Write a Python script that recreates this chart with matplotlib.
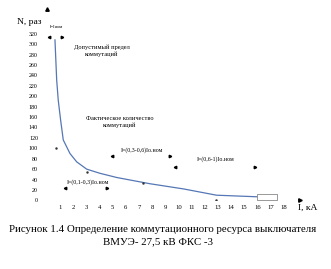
import matplotlib
matplotlib.use('Agg')
import matplotlib.pyplot as plt

# curve: current I (kA) -> number of switchings N
current_ka = [0.62, 0.75, 0.87, 1.05, 1.25, 1.76, 2.27, 3.03, 4.04, 5.31, 6.57, 7.84, 10.4, 12.9, 14.4, 15.95]
switchings = [308, 231, 192, 154, 116, 90, 74, 60, 52, 44, 38, 32, 22, 10, 8.5, 7]

# small range arrows (left / right pointing) and dots
left_arrows_x = [0.16, 4.93, 9.74, 1.38]
left_arrows_y = [314, 85, 65, 24]
right_arrows_x = [1.15, 9.4, 15.8, 4.6]
right_arrows_y = [314, 85, 65, 24]
dots_x = [0.7, 3.05, 7.3, 12.9]
dots_y = [101, 55, 33, 1]

# end box on the curve
box_x = [16.0, 17.5]
box_y = [1, 12]

x_ticks = list(range(1, 19))
y_ticks = list(range(0, 321, 20))

serif = 'Liberation Serif'

fig = plt.figure(figsize=(3.31, 2.69), dpi=100)
ax = fig.add_axes([0.1335, 0.255, 0.7828, 0.7167])
ax.set_xlim(-0.2, 19.5)
ax.set_ylim(0, 370)
for s in ax.spines.values():
    s.set_visible(False)

ax.plot(current_ka, switchings, color='#5577b5', lw=0.9)
ax.fill_between(box_x, box_y[0], box_y[1], facecolor='white', edgecolor='#888888', lw=0.6)

ax.plot(left_arrows_x, left_arrows_y, ls='none', marker='<', ms=1.8, color='black')
ax.plot(right_arrows_x, right_arrows_y, ls='none', marker='>', ms=1.8, color='black')
ax.plot(dots_x, dots_y, ls='none', marker='.', ms=1.5, color='#333333')

# axis arrows
ax.plot([0.01], [367], ls='none', marker='^', ms=2.5, color='black', clip_on=False)
ax.plot([19.25], [1], ls='none', marker='>', ms=2.5, color='black', clip_on=False)

ax.set_xticks(x_ticks)
ax.set_yticks(y_ticks)
ax.tick_params(length=0, labelsize=4.8)
ax.tick_params(axis='x', pad=3.5)
ax.tick_params(axis='y', pad=4.5, labelsize=4.3)
for lab in ax.get_xticklabels() + ax.get_yticklabels():
    lab.set_fontfamily(serif)

fig.text(17 / 331, 1 - 22 / 269, 'N, раз', fontsize=6.8, family=serif, va='center', ha='left')
fig.text(298 / 331, 1 - 208 / 269, 'I, кА', fontsize=6.8, family=serif, va='center', ha='left')

ax.text(0.77, 333, 'I=Iном', fontsize=3.3, family=serif, ha='center', va='center')
ax.text(4.17, 287, 'Допустимый предел\nкоммутаций', fontsize=4.6, family=serif,
        ha='center', va='center', linespacing=1.3)
ax.text(5.56, 150, 'Фактическое количество\nкоммутаций', fontsize=4.6, family=serif,
        ha='center', va='center', linespacing=1.3)
ax.text(7.2, 97, 'I=(0,3-0,6)Iо.ном', fontsize=4.2, family=serif, ha='center', va='center')
ax.text(12.8, 79, 'I=(0,6-1)Iо.ном', fontsize=4.2, family=serif, ha='center', va='center')
ax.text(3.09, 36, 'I=(0,1-0,3)Iо.ном', fontsize=4.2, family=serif, ha='center', va='center')

fig.text(163 / 331, 1 - 230 / 269,
         'Рисунок 1.4 Определение коммутационного ресурса выключателя',
         fontsize=7.8, family=serif, ha='center', va='center')
fig.text(158 / 331, 1 - 242 / 269, 'ВМУЭ- 27,5 кВ ФКС -3',
         fontsize=7.8, family=serif, ha='center', va='center')

fig.savefig('out.png', dpi=100)
